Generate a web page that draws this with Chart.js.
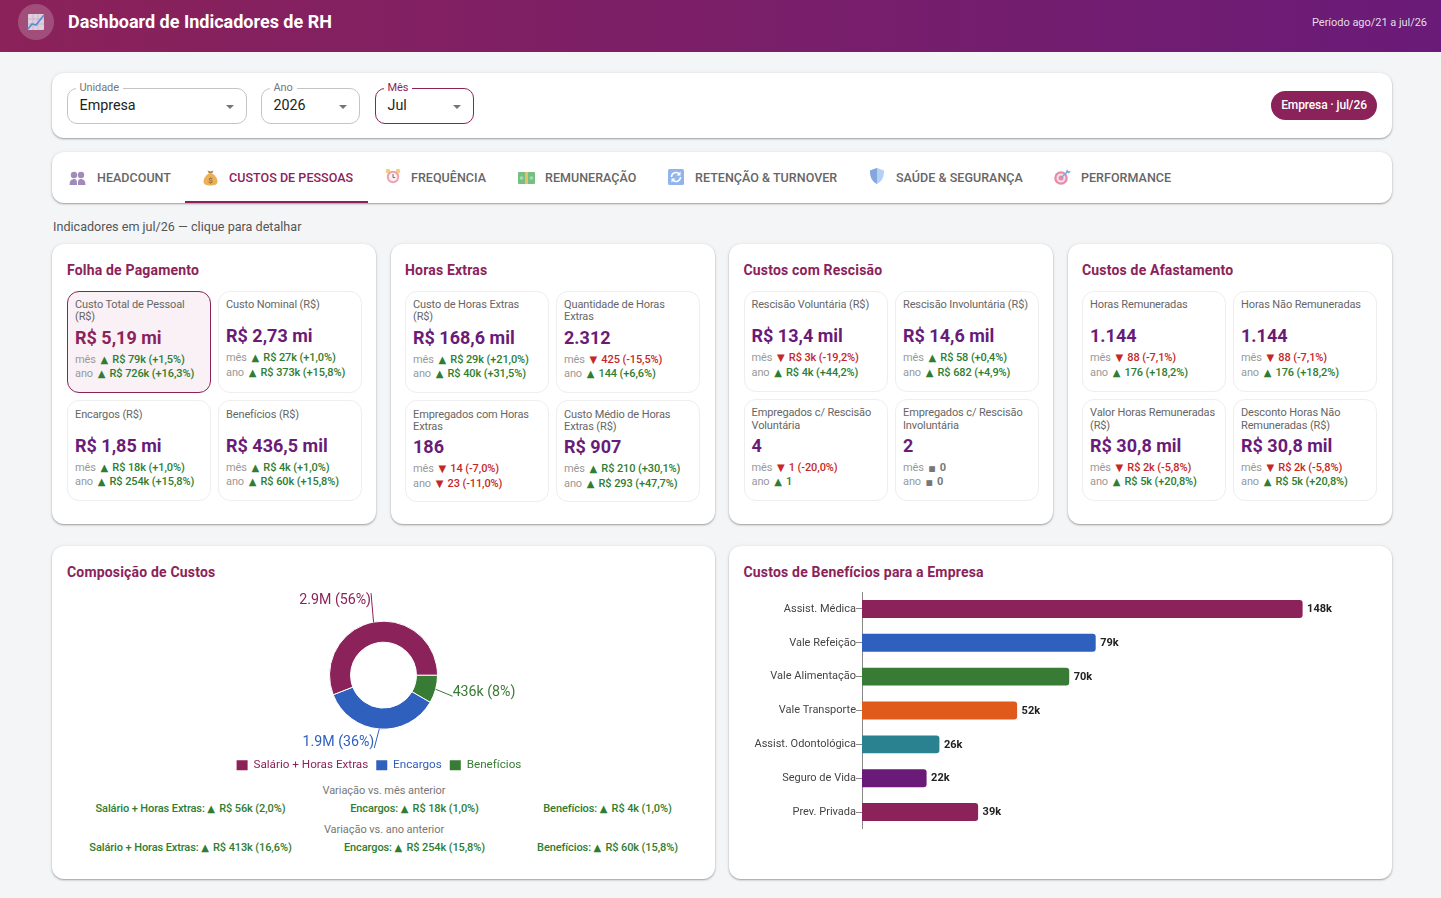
<!DOCTYPE html>
<html lang="pt-BR">
<head>
<meta charset="utf-8">
<title>Dashboard de Indicadores de RH</title>
<script src="https://cdn.jsdelivr.net/npm/chart.js@4/dist/chart.umd.min.js"></script>
<style>
  * { box-sizing: border-box; }
  html, body { margin: 0; height: 898px; overflow: hidden; }
  body { position: relative; background: #f4f5f7; font-family: Roboto, sans-serif; color: #333; }
  .abs { position: absolute; white-space: nowrap; line-height: 1; }
  .mid { transform: translateY(-50%); }
  .center { transform: translate(-50%, -50%); }
  .header { position: absolute; left: 0; top: 0; width: 1441px; height: 52px; background: linear-gradient(90deg, #8b2259, #6a1b78); }
  .logo { position: absolute; left: 18px; top: 4px; width: 36px; height: 36px; border-radius: 50%; background: rgba(255,255,255,.2); }
  .card { position: absolute; background: #fff; border-radius: 12px; box-shadow: 0 1px 2px rgba(0,0,0,.35), 0 0 5px rgba(0,0,0,.05); }
  .select { position: absolute; top: 88px; height: 36px; background: #fff; border: 1px solid #c4c4c4; border-radius: 10px; }
  .select.active { border-color: #8b2259; }
  .select .lab { position: absolute; left: 7.500px; top: -7px; padding: 0 4px; background: #fff; font-size: 11px; line-height: 12px; letter-spacing: -.1px; color: #777; }
  .select.active .lab { color: #8b2259; }
  .select .val { position: absolute; left: 11.500px; top: 8px; font-size: 14.3px; line-height: 16px; color: #222; }
  .select .arrow { position: absolute; right: 12px; top: 15.500px; width: 0; height: 0; border-left: 4.500px solid transparent; border-right: 4.500px solid transparent; border-top: 4.500px solid #757575; }
  .pill { position: absolute; left: 1271px; top: 91px; width: 106px; height: 29px; border-radius: 15px; background: #8b2259; color: #fff; font-size: 12px; font-weight: 500; letter-spacing: -.12px; line-height: 28px; text-align: center; }
  .tab-text { font-size: 12.5px; font-weight: 500; letter-spacing: .04px; color: #666; }
  .tab-text.active { color: #8b2259; }
  .tab-line { position: absolute; left: 185px; top: 201px; width: 183px; height: 2px; background: #8b2259; }
  .icon { position: absolute; opacity: .85; }
  .title { font-size: 14px; font-weight: 700; letter-spacing: .18px; color: #8b2259; }
  .kpi { position: absolute; background: #fff; border: 1px solid #eeeeee; border-radius: 12px; }
  .kpi.selected { background: #f9f1f5; border-color: #8b2259; }
  .k-label { font-size: 11px; letter-spacing: -.12px; color: #666; }
  .k-value { font-size: 18px; font-weight: 700; color: #6a1b78; }
  .k-value.selected { color: #8b2259; }
  .k-delta { font-size: 11px; font-weight: 500; letter-spacing: -.1px; }
  .k-delta i { font-style: normal; font-weight: 400; color: #999; }
  .tri { font-family: "DejaVu Sans", sans-serif; font-size: 10px; font-weight: 400; letter-spacing: 0; margin: 0 1.500px 0 2px; }
  .tri.small { font-size: 7.500px; }
  .var-item .tri { margin-left: 0; }
  .up { color: #2e7d32; }
  .down { color: #c62828; }
  .flat { color: #777; font-weight: 700; }
  .var-title { font-size: 11px; letter-spacing: -.05px; color: #777; }
  .var-item { font-size: 11px; font-weight: 500; letter-spacing: -.1px; color: #2e7d32; }
  canvas { position: absolute; }
</style>
</head>
<body>
  <div class="header">
    <div class="logo">
      <svg class="icon" style="left:8px;top:8px" width="20" height="20" viewBox="0 0 20 20">
        <rect x="2" y="2" width="16" height="16" rx="1" fill="#ece6f0"/>
        <path d="M7 2v16M12 2v16M2 7h16M2 12h16" stroke="#c9bdd6" stroke-width=".7"/>
        <path d="M2 17l4-5 4 1 8-10" fill="none" stroke="#4d9bdc" stroke-width="1.8"/>
      </svg>
    </div>
    <div class="abs mid" style="left:68px;top:22px;font-size:18px;font-weight:700;color:#fff">Dashboard de Indicadores de RH</div>
    <div class="abs mid" style="right:14px;top:22px;font-size:11px;letter-spacing:-.03px;color:rgba(255,255,255,.85)">Período ago/21 a jul/26</div>
  </div>

  <div class="card" style="left:52px;top:73px;width:1340px;height:65px"></div>
  <div class="select" style="left:67px;width:180px"><span class="lab">Unidade</span><span class="val">Empresa</span><span class="arrow"></span></div>
  <div class="select" style="left:261px;width:99px"><span class="lab">Ano</span><span class="val">2026</span><span class="arrow"></span></div>
  <div class="select active" style="left:375px;width:99px"><span class="lab">Mês</span><span class="val">Jul</span><span class="arrow"></span></div>
  <div class="pill">Empresa · jul/26</div>

  <div class="card" style="left:52px;top:152px;width:1340px;height:51px"></div>
  <div class="tab-line"></div>
  <div id="tabs"></div>

  <svg class="icon" style="left:69px;top:171px" width="17" height="15" viewBox="0 0 17 15">
    <circle cx="5" cy="4" r="3.2" fill="#8f78ad"/><circle cx="12" cy="4" r="3.2" fill="#8f78ad"/>
    <path d="M0.5 14c0-4 1.5-6 4.5-6s3 2 3 6zM9 14c0-4 0-6 3-6s4.500 2 4.500 6z" fill="#8f78ad"/>
  </svg>
  <svg class="icon" style="left:203px;top:169px" width="15" height="17" viewBox="0 0 15 17">
    <path d="M4.500 1.500l3 1 3-1-1.500 3h-3z" fill="#a86a20"/>
    <path d="M5.500 4.500h4c3 2 5 5 5 8 0 3-3 4-7 4s-7-1-7-4c0-3 2-6 5-8z" fill="#e8a33d"/>
    <text x="7.500" y="14" font-size="8" font-family="Roboto" text-anchor="middle" fill="#6b3d0c">$</text>
  </svg>
  <svg class="icon" style="left:385px;top:168px" width="16" height="17" viewBox="0 0 16 17">
    <circle cx="3" cy="3" r="2.300" fill="#f0c95a"/><circle cx="13" cy="3" r="2.300" fill="#f0c95a"/>
    <circle cx="8" cy="9" r="6.200" fill="#ee8ea3"/><circle cx="8" cy="9" r="4.300" fill="#fbeef0"/>
    <path d="M8 6v3.500h2.200" fill="none" stroke="#555" stroke-width="1"/>
  </svg>
  <svg class="icon" style="left:518px;top:172px" width="17" height="12" viewBox="0 0 17 12">
    <rect width="17" height="12" rx="1" fill="#5fb36d"/><rect x="7" width="3" height="12" fill="#e7b552"/>
    <circle cx="3.500" cy="6" r="1.800" fill="#9ad6a3"/><circle cx="13.500" cy="6" r="1.800" fill="#9ad6a3"/>
  </svg>
  <svg class="icon" style="left:668px;top:169px" width="16" height="16" viewBox="0 0 16 16">
    <rect width="16" height="16" rx="1.500" fill="#7ea8ea"/>
    <path d="M3.500 8a4.500 4.500 0 0 1 8-2.800M12.500 8a4.500 4.500 0 0 1-8 2.800" fill="none" stroke="#fff" stroke-width="1.500"/>
    <path d="M12.500 2.500v4h-4zM3.500 13.500v-4h4z" fill="#fff"/>
  </svg>
  <svg class="icon" style="left:870px;top:168px" width="14" height="16" viewBox="0 0 14 16">
    <path d="M7 0l7 2.500c0 6-1.500 10.500-7 13.500C1.500 13 0 8.500 0 2.500z" fill="#a8caf4"/>
    <path d="M7 0v16C1.500 13 0 8.500 0 2.500z" fill="#6f9ad8"/>
  </svg>
  <svg class="icon" style="left:1054px;top:169px" width="17" height="16" viewBox="0 0 17 16">
    <circle cx="7" cy="9" r="6.800" fill="#e4789a"/><circle cx="7" cy="9" r="4.500" fill="#f8dbe3"/><circle cx="7" cy="9" r="2.500" fill="#e4789a"/>
    <path d="M7 9l7-7" stroke="#5a9ee0" stroke-width="1.300"/><path d="M12 3l1-3 1 2 3 .5-2.500 2z" fill="#5a9ee0"/>
  </svg>

  <div class="abs mid" style="left:53px;top:226.500px;font-size:12.6px;color:#555">Indicadores em jul/26 — clique para detalhar</div>

  <div id="kpis"></div>

  <div class="card" style="left:52px;top:546px;width:663px;height:333px"></div>
  <div class="card" style="left:729px;top:546px;width:663px;height:333px"></div>
  <div class="abs mid title" style="left:67px;top:572px">Composição de Custos</div>
  <div class="abs mid title" style="left:743.500px;top:572px">Custos de Benefícios para a Empresa</div>
  <canvas id="compChart" style="left:52px;top:586px;width:663px;height:195px" width="663" height="195"></canvas>
  <canvas id="benefitChart" style="left:740px;top:592px;width:643px;height:237px" width="643" height="237"></canvas>
  <div id="variations"></div>

<script>
// Tabs
const tabNames = ["HEADCOUNT", "CUSTOS DE PESSOAS", "FREQUÊNCIA", "REMUNERAÇÃO", "RETENÇÃO & TURNOVER", "SAÚDE & SEGURANÇA", "PERFORMANCE"];
const activeTab = 1;

// KPI cards, one list per section
const sectionTitles = ["Folha de Pagamento", "Horas Extras", "Custos com Rescisão", "Custos de Afastamento"];
const folhaLabels = ["Custo Total de Pessoal\n(R$)", "Custo Nominal (R$)", "Encargos (R$)", "Benefícios (R$)"];
const folhaValues = ["R$ 5,19 mi", "R$ 2,73 mi", "R$ 1,85 mi", "R$ 436,5 mil"];
const folhaMonth = ["▲ R$ 79k (+1,5%)", "▲ R$ 27k (+1,0%)", "▲ R$ 18k (+1,0%)", "▲ R$ 4k (+1,0%)"];
const folhaYear = ["▲ R$ 726k (+16,3%)", "▲ R$ 373k (+15,8%)", "▲ R$ 254k (+15,8%)", "▲ R$ 60k (+15,8%)"];
const horasLabels = ["Custo de Horas Extras\n(R$)", "Quantidade de Horas\nExtras", "Empregados com Horas\nExtras", "Custo Médio de Horas\nExtras (R$)"];
const horasValues = ["R$ 168,6 mil", "2.312", "186", "R$ 907"];
const horasMonth = ["▲ R$ 29k (+21,0%)", "▼ 425 (-15,5%)", "▼ 14 (-7,0%)", "▲ R$ 210 (+30,1%)"];
const horasYear = ["▲ R$ 40k (+31,5%)", "▲ 144 (+6,6%)", "▼ 23 (-11,0%)", "▲ R$ 293 (+47,7%)"];
const rescisaoLabels = ["Rescisão Voluntária (R$)", "Rescisão Involuntária (R$)", "Empregados c/ Rescisão\nVoluntária", "Empregados c/ Rescisão\nInvoluntária"];
const rescisaoValues = ["R$ 13,4 mil", "R$ 14,6 mil", "4", "2"];
const rescisaoMonth = ["▼ R$ 3k (-19,2%)", "▲ R$ 58 (+0,4%)", "▼ 1 (-20,0%)", "■ 0"];
const rescisaoYear = ["▲ R$ 4k (+44,2%)", "▲ R$ 682 (+4,9%)", "▲ 1", "■ 0"];
const afastLabels = ["Horas Remuneradas", "Horas Não Remuneradas", "Valor Horas Remuneradas\n(R$)", "Desconto Horas Não\nRemuneradas (R$)"];
const afastValues = ["1.144", "1.144", "R$ 30,8 mil", "R$ 30,8 mil"];
const afastMonth = ["▼ 88 (-7,1%)", "▼ 88 (-7,1%)", "▼ R$ 2k (-5,8%)", "▼ R$ 2k (-5,8%)"];
const afastYear = ["▲ 176 (+18,2%)", "▲ 176 (+18,2%)", "▲ R$ 5k (+20,8%)", "▲ R$ 5k (+20,8%)"];

// Composition donut, in clockwise drawing order from 3 o'clock
const compCategories = ["Benefícios", "Encargos", "Salário + Horas Extras"];
const compValues = [436400, 1853000, 2903000];
const compColors = ["#387b35", "#3060be", "#8b2259"];

// Benefit costs (R$ thousand)
const benefitCategories = ["Assist. Médica", "Vale Refeição", "Vale Alimentação", "Vale Transporte", "Assist. Odontológica", "Seguro de Vida", "Prev. Privada"];
const benefitValues = [148, 78.5, 69.6, 52.1, 26, 21.7, 39];
const benefitColors = ["#8b2259", "#3060be", "#387b35", "#e05a1b", "#2a8290", "#6a1b78", "#8b2259"];

// Variation lines under the donut
const monthVariations = ["Salário + Horas Extras: ▲ R$ 56k (2,0%)", "Encargos: ▲ R$ 18k (1,0%)", "Benefícios: ▲ R$ 4k (1,0%)"];
const yearVariations = ["Salário + Horas Extras: ▲ R$ 413k (16,6%)", "Encargos: ▲ R$ 254k (15,8%)", "Benefícios: ▲ R$ 60k (15,8%)"];

// The triangles come from DejaVu, Roboto has none
function withTriangle(text) {
  return text.replace(/[▲▼■]/, (glyph) => `<span class="tri${glyph === "■" ? " small" : ""}">${glyph}</span>`);
}

function addText(parent, cls, x, y, html) {
  const el = document.createElement("div");
  el.className = "abs " + cls;
  el.style.left = x + "px";
  el.style.top = y + "px";
  el.innerHTML = html;
  parent.appendChild(el);
  return el;
}

// Tabs row
const tabLefts = [97, 229, 411, 545, 695, 896, 1081];
const tabsEl = document.getElementById("tabs");
tabNames.forEach((name, i) => {
  addText(tabsEl, "mid tab-text" + (i === activeTab ? " active" : ""), tabLefts[i], 177.5, name);
});

// KPI layout: y of label lines, value and the two delta lines for each card template
const tallLabel = { label: [304, 316], value: 338, deltas: [359, 373], top: 291, height: 102 };
const shortLabel = { label: [304, 316], value: 336, deltas: [357, 372], top: 291, height: 102 };
const lowerA = { label: [414, 426], value: 446, deltas: [467, 481], top: 400, height: 101 };
const lowerB = { label: [414, 426], value: 447, deltas: [468, 483], top: 400, height: 102 };
const upperC = { label: [304, 316], value: 336, deltas: [357, 372], top: 291, height: 101 };
const lowerC = { label: [412, 425], value: 446, deltas: [467, 481], top: 399, height: 102 };

const sections = [
  { left: 52, cols: [67, 218], labels: folhaLabels, values: folhaValues, month: folhaMonth, year: folhaYear, rows: [tallLabel, shortLabel, lowerA, lowerA] },
  { left: 391, cols: [405, 556], labels: horasLabels, values: horasValues, month: horasMonth, year: horasYear, rows: [tallLabel, tallLabel, lowerB, lowerB] },
  { left: 729, cols: [743.5, 895], labels: rescisaoLabels, values: rescisaoValues, month: rescisaoMonth, year: rescisaoYear, rows: [upperC, upperC, lowerC, lowerC] },
  { left: 1068, cols: [1082, 1233], labels: afastLabels, values: afastValues, month: afastMonth, year: afastYear, rows: [upperC, upperC, lowerC, lowerC] },
];

function deltaClass(text) {
  if (text[0] === "▲") return "up";
  if (text[0] === "▼") return "down";
  return "flat";
}

const kpisEl = document.getElementById("kpis");
sections.forEach((section, s) => {
  const card = document.createElement("div");
  card.className = "card";
  card.style.cssText = `left:${section.left}px;top:244px;width:324px;height:280px`;
  kpisEl.appendChild(card);
  addText(kpisEl, "mid title", section.cols[0], 270, sectionTitles[s]);

  section.labels.forEach((label, i) => {
    const row = section.rows[i];
    const x = section.cols[i % 2];
    const selected = s === 0 && i === 0;
    const box = document.createElement("div");
    box.className = "kpi" + (selected ? " selected" : "");
    box.style.cssText = `left:${x}px;top:${row.top}px;width:144px;height:${row.height}px`;
    kpisEl.appendChild(box);
    label.split("\n").forEach((line, n) => {
      addText(kpisEl, "mid k-label", x + 8, row.label[n], line);
    });
    addText(kpisEl, "mid k-value" + (selected ? " selected" : ""), x + 8, row.value, section.values[i]);
    addText(kpisEl, "mid k-delta", x + 8, row.deltas[0], `<i>mês</i> <span class="${deltaClass(section.month[i])}">${withTriangle(section.month[i])}</span>`);
    addText(kpisEl, "mid k-delta", x + 8, row.deltas[1], `<i>ano</i> <span class="${deltaClass(section.year[i])}">${withTriangle(section.year[i])}</span>`);
  });
});

// Variation text under the donut
const variationsEl = document.getElementById("variations");
const variationCenters = [190.5, 414.5, 607.5];
addText(variationsEl, "center var-title", 384, 790, "Variação vs. mês anterior");
addText(variationsEl, "center var-title", 384, 829, "Variação vs. ano anterior");
monthVariations.forEach((text, i) => addText(variationsEl, "center var-item", variationCenters[i], 808, withTriangle(text)));
yearVariations.forEach((text, i) => addText(variationsEl, "center var-item", variationCenters[i], 847, withTriangle(text)));

// Donut labels with leader lines
function compLabel(value, total) {
  const text = value >= 1000000 ? (value / 1000000).toFixed(1) + "M" : Math.round(value / 1000) + "k";
  return `${text} (${Math.round((value / total) * 100)}%)`;
}

// Leader end relative to the slice edge, then the text relative to that end
const leaderEnds = [[17, 7], [-5, 19], [-2.5, -29]];
const labelShifts = [[0, -4], [0, -5.5], [0, 7]];

const donutLabels = {
  id: "donutLabels",
  afterLayout(chart) {
    // legend sits a little left of the donut centre
    chart.legend.left -= 4.5;
    chart.legend.right -= 4.5;
  },
  afterDatasetsDraw(chart) {
    const { ctx } = chart;
    const total = compValues.reduce((sum, v) => sum + v, 0);
    chart.getDatasetMeta(0).data.forEach((arc, i) => {
      const mid = (arc.startAngle + arc.endAngle) / 2;
      const x1 = arc.x + arc.outerRadius * Math.cos(mid);
      const y1 = arc.y + arc.outerRadius * Math.sin(mid);
      const x2 = x1 + leaderEnds[i][0];
      const y2 = y1 + leaderEnds[i][1];
      ctx.save();
      ctx.strokeStyle = compColors[i];
      ctx.lineWidth = 1;
      ctx.beginPath();
      ctx.moveTo(x1, y1);
      ctx.lineTo(x2, y2);
      ctx.stroke();
      ctx.fillStyle = compColors[i];
      ctx.font = "14.2px Roboto";
      ctx.textBaseline = "middle";
      ctx.textAlign = leaderEnds[i][0] > 0 ? "left" : "right";
      ctx.fillText(compLabel(compValues[i], total), x2 + labelShifts[i][0], y2 + labelShifts[i][1]);
      ctx.restore();
    });
  },
};

new Chart(document.getElementById("compChart"), {
  type: "doughnut",
  data: {
    labels: compCategories,
    datasets: [{ data: compValues, backgroundColor: compColors, borderColor: "#fff", borderWidth: 1 }],
  },
  options: {
    responsive: false,
    animation: false,
    rotation: 90,
    radius: 54,
    cutout: "61%",
    layout: { padding: { top: 13 } },
    plugins: {
      tooltip: { enabled: false },
      legend: {
        position: "bottom",
        reverse: true,
        labels: {
          boxWidth: 11,
          boxHeight: 10,
          padding: 8,
          font: { family: "Roboto", size: 11.7 },
          generateLabels: () =>
            compCategories.map((text, i) => ({
              text,
              fillStyle: compColors[i],
              strokeStyle: compColors[i],
              fontColor: compColors[i],
              lineWidth: 0,
              index: i,
            })),
        },
      },
    },
  },
  plugins: [donutLabels],
});

// Value labels at the bar ends
const barLabels = {
  id: "barLabels",
  afterDatasetsDraw(chart) {
    const { ctx } = chart;
    chart.getDatasetMeta(0).data.forEach((bar, i) => {
      ctx.save();
      ctx.fillStyle = "#222";
      ctx.font = "700 11px Roboto";
      ctx.textBaseline = "middle";
      ctx.fillText(Math.round(benefitValues[i]) + "k", bar.x + 4.5, bar.y + 0.5);
      ctx.restore();
    });
  },
};

new Chart(document.getElementById("benefitChart"), {
  type: "bar",
  data: {
    labels: benefitCategories,
    datasets: [
      {
        data: benefitValues,
        backgroundColor: benefitColors,
        borderRadius: { topRight: 3, bottomRight: 3 },
        borderSkipped: false,
        categoryPercentage: 1,
        barPercentage: 0.53,
      },
    ],
  },
  options: {
    indexAxis: "y",
    responsive: false,
    animation: false,
    scales: {
      x: { display: false, min: 0, max: 175 },
      y: {
        afterFit: (scale) => {
          scale.width = 122;
          scale.paddingTop = 0;
          scale.paddingBottom = 0;
        },
        border: { display: true, color: "#888" },
        grid: { drawOnChartArea: false, drawTicks: true, offset: false, tickLength: 6, color: "#888" },
        ticks: { color: "#444", padding: 0, font: { family: "Roboto", size: 11 } },
      },
    },
    plugins: { legend: { display: false }, tooltip: { enabled: false } },
  },
  plugins: [barLabels],
});
</script>
</body>
</html>
